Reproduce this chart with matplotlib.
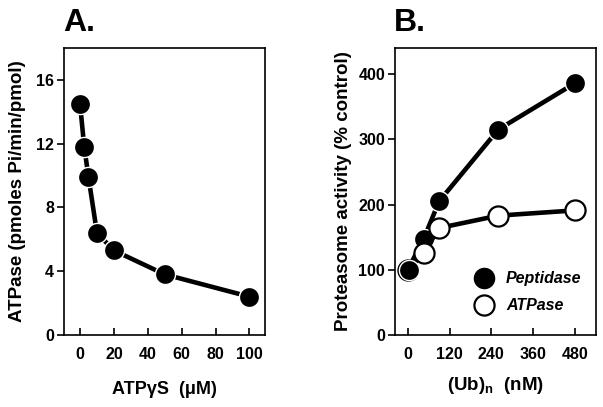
import matplotlib
matplotlib.use("Agg")
import matplotlib.pyplot as plt
from matplotlib.lines import Line2D

plt.rcParams["font.family"] = ["Liberation Sans", "DejaVu Sans"]
plt.rcParams["font.weight"] = "bold"
plt.rcParams["axes.labelweight"] = "bold"
plt.rcParams["mathtext.fontset"] = "custom"
plt.rcParams["mathtext.bf"] = "Liberation Sans:bold"
plt.rcParams["mathtext.rm"] = "Liberation Sans:bold"

# Panel A: ATPase vs ATPgammaS
atp_gs = [0, 2.5, 5, 10, 20, 50, 100]
atpase_rate = [14.5, 11.8, 9.9, 6.4, 5.3, 3.8, 2.4]

# Panel B: proteasome activity vs (Ub)n
ub_conc = [0, 45, 90, 260, 480]
peptidase = [100, 147, 205, 315, 386]
atpase_pct = [100, 125, 164, 183, 191]

a_xticks = [0, 20, 40, 60, 80, 100]
a_yticks = [0, 4, 8, 12, 16]
b_xticks = [0, 120, 240, 360, 480]
b_yticks = [0, 100, 200, 300, 400]

MS = 14.5
LW = 3.3
TICK_FS = 11.5
LABEL_FS = 13.5


def style_axes(ax):
    for s in ax.spines.values():
        s.set_linewidth(1.2)
    ax.tick_params(axis="x", direction="in", length=5, width=1.2,
                   pad=9, labelsize=TICK_FS)
    ax.tick_params(axis="y", direction="out", length=5, width=1.2,
                   pad=2, labelsize=TICK_FS)
    for lab in ax.get_xticklabels() + ax.get_yticklabels():
        lab.set_fontweight("bold")


fig = plt.figure(figsize=(6.03, 4.07), dpi=100)
ax_a = fig.add_axes([0.106, 0.177, 0.333, 0.705])
ax_b = fig.add_axes([0.655, 0.177, 0.333, 0.705])

# Panel A
ax_a.plot(atp_gs, atpase_rate, color="black", lw=LW, marker="o",
          ms=MS, mfc="black", mec="white", mew=1.0)
ax_a.set_xlim(-9.5, 109)
ax_a.set_ylim(0, 18)
ax_a.set_xticks(a_xticks)
ax_a.set_yticks(a_yticks)
style_axes(ax_a)
ax_a.set_xlabel("ATP\u03b3S  (\u03bcM)", fontsize=LABEL_FS - 0.5, labelpad=13)
ax_a.set_ylabel("ATPase (pmoles Pi/min/pmol)", fontsize=LABEL_FS, labelpad=7)
ax_a.text(-0.005, 1.035, "A.", transform=ax_a.transAxes, fontsize=23,
          fontweight="bold", ha="left", va="bottom")

# Panel B
ax_b.plot(ub_conc, peptidase, color="black", lw=LW, marker="o",
          ms=MS, mfc="black", mec="white", mew=1.0, zorder=2)
ax_b.plot(ub_conc, atpase_pct, color="black", lw=LW, marker="o",
          ms=MS, mfc="white", mec="black", mew=1.6, zorder=3)
ax_b.plot(ub_conc[0] + 4, peptidase[0], color="black", marker="o",
          ms=MS, mfc="black", mec="white", mew=1.0, ls="none", zorder=4)
ax_b.set_xlim(-37, 540)
ax_b.set_ylim(0, 440)
ax_b.set_xticks(b_xticks)
ax_b.set_yticks(b_yticks)
style_axes(ax_b)
ax_b.set_xlabel("(Ub)$_\\mathbf{n}$  (nM)", fontsize=LABEL_FS, labelpad=9)
ax_b.set_ylabel("Proteasome activity (% control)", fontsize=LABEL_FS,
                labelpad=5)
ax_b.text(-0.005, 1.035, "B.", transform=ax_b.transAxes, fontsize=23,
          fontweight="bold", ha="left", va="bottom")

handles = [
    Line2D([], [], ls="none", marker="o", ms=MS, mfc="black", mec="black"),
    Line2D([], [], ls="none", marker="o", ms=MS, mfc="white", mec="black",
           mew=1.6),
]
leg = ax_b.legend(handles, ["Peptidase", "ATPase"], loc="lower left",
                  bbox_to_anchor=(0.33, 0.025), frameon=False,
                  handlelength=1.0, handletextpad=0.9, labelspacing=0.75,
                  prop={"size": 11.5, "weight": "bold", "style": "italic"})

fig.savefig("out.png", dpi=100)
